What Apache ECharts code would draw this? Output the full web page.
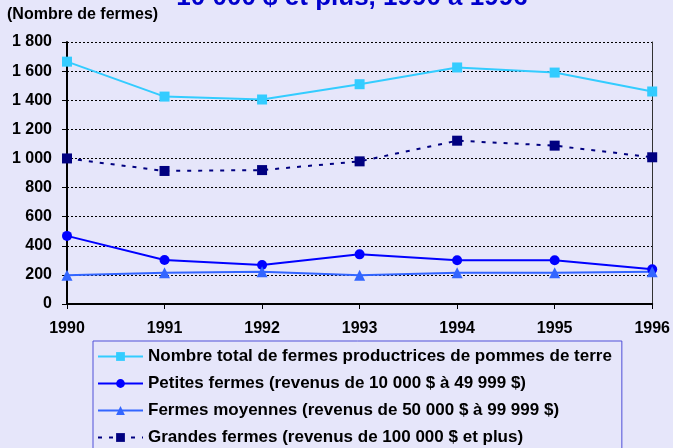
<!DOCTYPE html>
<html>
<head>
<meta charset="utf-8">
<script src="https://cdn.jsdelivr.net/npm/echarts@6/dist/echarts.min.js"></script>
<style>
html, body { margin: 0; padding: 0; background: #E6E6FA; }
#chart { width: 673px; height: 448px; }
</style>
</head>
<body>
<div id="chart"></div>
<script>
var years = ['1990', '1991', '1992', '1993', '1994', '1995', '1996'];
var totalFermes = [1665, 1425, 1405, 1510, 1625, 1590, 1460];
var petitesFermes = [468, 302, 268, 341, 300, 300, 238];
var moyennesFermes = [198, 215, 222, 197, 215, 215, 222];
var grandesFermes = [1000, 914, 920, 980, 1122, 1088, 1008];
var yTicks = { min: 0, max: 1800, step: 200 };

var names = [
    'Nombre total de fermes productrices de pommes de terre',
    'Petites fermes (revenus de 10 000 $ à 49 999 $)',
    'Fermes moyennes (revenus de 50 000 $ à 99 999 $)',
    'Grandes fermes (revenus de 100 000 $ et plus)'
];

function fmt(v) {
    return String(v).replace(/\B(?=(\d{3})+(?!\d))/g, ' ');
}

var font = 'Arial, "Liberation Sans", sans-serif';
var chart = echarts.init(document.getElementById('chart'));

chart.setOption({
    backgroundColor: '#E6E6FA',
    animation: false,
    title: {
        text: '10 000 $ et plus, 1990 à 1996',
        left: 347,
        textAlign: 'center',
        top: -20,
        textStyle: { color: '#0000CC', fontFamily: font, fontWeight: 'bold', fontSize: 26 }
    },
    graphic: [{
        type: 'text',
        left: 7,
        top: 7,
        style: { text: '(Nombre de fermes)', font: 'bold 16px ' + font, fill: '#000' }
    }],
    grid: { left: 67, right: 18, top: 42, bottom: 144 },
    legend: {
        orient: 'vertical',
        left: 93,
        top: 341,
        height: 300,
        padding: [7, 10, 12, 4],
        itemGap: 10,
        itemWidth: 45,
        itemHeight: 11,
        backgroundColor: '#E6E6FA',
        borderColor: '#5050D8',
        borderWidth: 1,
        textStyle: { color: '#000', fontFamily: font, fontWeight: 'bold', fontSize: 17 },
        data: names
    },
    xAxis: {
        type: 'category',
        data: years,
        boundaryGap: false,
        axisLine: { lineStyle: { color: '#000', width: 2 } },
        axisTick: { alignWithLabel: true, length: 5, lineStyle: { color: '#000' } },
        axisLabel: { color: '#000', fontFamily: font, fontWeight: 'bold', fontSize: 16, margin: 17 }
    },
    yAxis: [{
        type: 'value',
        min: yTicks.min,
        max: yTicks.max,
        interval: yTicks.step,
        axisLine: { show: true, lineStyle: { color: '#000', width: 2 } },
        axisTick: { show: true, length: 5, lineStyle: { color: '#000' } },
        axisLabel: {
            color: '#000', fontFamily: font, fontWeight: 'bold', fontSize: 16, margin: 15,
            formatter: fmt
        },
        splitLine: { lineStyle: { color: '#000', type: [2, 2], width: 1 } }
    }, {
        type: 'value',
        position: 'right',
        min: yTicks.min,
        max: yTicks.max,
        interval: yTicks.step,
        axisLine: { show: true, lineStyle: { color: '#333', width: 1 } },
        axisTick: { show: false },
        axisLabel: { show: false },
        splitLine: { show: false }
    }],
    series: [{
        name: names[0],
        type: 'line',
        data: totalFermes,
        color: '#33CCFF',
        symbol: 'rect',
        symbolSize: 10,
        lineStyle: { width: 2 }
    }, {
        name: names[1],
        type: 'line',
        data: petitesFermes,
        color: '#0000FF',
        symbol: 'circle',
        symbolSize: 10,
        lineStyle: { width: 2 }
    }, {
        name: names[2],
        type: 'line',
        data: moyennesFermes,
        color: '#3366FF',
        symbol: 'triangle',
        symbolSize: 11,
        lineStyle: { width: 2 }
    }, {
        name: names[3],
        type: 'line',
        data: grandesFermes,
        color: '#000080',
        symbol: 'rect',
        symbolSize: 10,
        lineStyle: { width: 2, type: [4, 7] }
    }]
});
</script>
</body>
</html>
